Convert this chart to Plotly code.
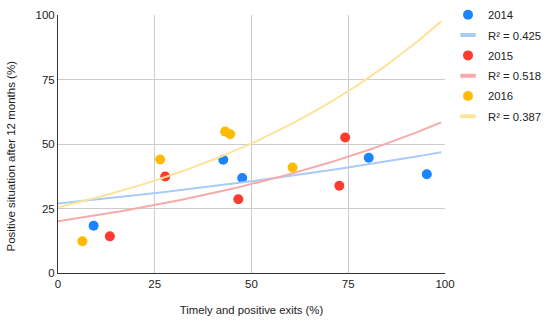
import plotly.graph_objects as go
import numpy as np

# Data
years = ["2014", "2015", "2016"]
x_2014 = [9.2, 42.7, 47.6, 80.3, 95.3]
y_2014 = [18.3, 43.9, 36.8, 44.7, 38.3]
x_2015 = [13.4, 27.7, 46.6, 74.2, 72.7]
y_2015 = [14.2, 37.4, 28.6, 52.5, 33.8]
x_2016 = [6.3, 26.4, 43.2, 44.5, 60.6]
y_2016 = [12.3, 44.0, 54.8, 53.8, 40.9]
r2_labels = ["R² = 0.425", "R² = 0.518", "R² = 0.387"]
# Exponential trendline coefficients y = a*exp(b*x)
trend_a = [26.9, 20.1, 25.5]
trend_b = [0.00559, 0.01077, 0.01355]

colors = ["#1a85ff", "#ff3b30", "#ffbb00"]
trend_colors = ["#a9cbf8", "#f9aaa8", "#fde39a"]

xs = [x_2014, x_2015, x_2016]
ys = [y_2014, y_2015, y_2016]

fig = go.Figure()
xline = np.linspace(0, 99, 100)
for i, yr in enumerate(years):
    fig.add_trace(go.Scatter(
        x=xs[i], y=ys[i], mode="markers", name=yr, legendgroup="p" + yr,
        marker=dict(color=colors[i], size=10, line=dict(width=0)),
    ))
    fig.add_trace(go.Scatter(
        x=xline, y=trend_a[i] * np.exp(trend_b[i] * xline), mode="lines",
        line=dict(color=trend_colors[i], width=2), showlegend=False,
        hoverinfo="skip",
    ))
    fig.add_trace(go.Scatter(
        x=[None], y=[None], mode="markers", name=r2_labels[i],
        legendgroup="t" + yr,
        marker=dict(symbol="line-ew-open", size=11, color=trend_colors[i],
                    line=dict(color=trend_colors[i], width=4)),
    ))

font = "Liberation Sans, Arial, sans-serif"
fig.update_layout(
    width=550, height=323,
    margin=dict(l=58, r=105, t=15, b=50, autoexpand=False),
    paper_bgcolor="white", plot_bgcolor="white",
    font=dict(family=font, size=11.5, color="#222222"),
    legend=dict(x=1.0078, y=1.057, xanchor="left", yanchor="top",
                font=dict(size=11.3, color="#222222"), itemwidth=30,
                tracegroupgap=1.3, bgcolor="rgba(0,0,0,0)"),
    xaxis=dict(range=[0, 100], tickvals=[0, 25, 50, 75, 100],
               showgrid=True, gridcolor="#cccccc", gridwidth=1,
               zeroline=False, showline=True, linecolor="#333333",
               linewidth=1, ticks="", ticklen=0, automargin=True,
               tickfont=dict(size=11.5),
               title=dict(text="Timely and positive exits (%)",
                          font=dict(size=11.3), standoff=17)),
    yaxis=dict(range=[0, 100], tickvals=[0, 25, 50, 75, 100],
               showgrid=True, gridcolor="#cccccc", gridwidth=1,
               zeroline=False, showline=True, linecolor="#333333",
               linewidth=1, ticks="", automargin=True,
               tickfont=dict(size=11.5)),
    annotations=[dict(text="Positive situation after 12 months (%)",
                      xref="paper", yref="paper", x=0, y=0.4516,
                      xshift=-47, xanchor="center", yanchor="middle",
                      textangle=-90, showarrow=False,
                      font=dict(size=11.5, color="#222222"))],
)

fig.write_html("out.html",
               post_script="document.body.style.margin='0';",
               config={"displayModeBar": False})
